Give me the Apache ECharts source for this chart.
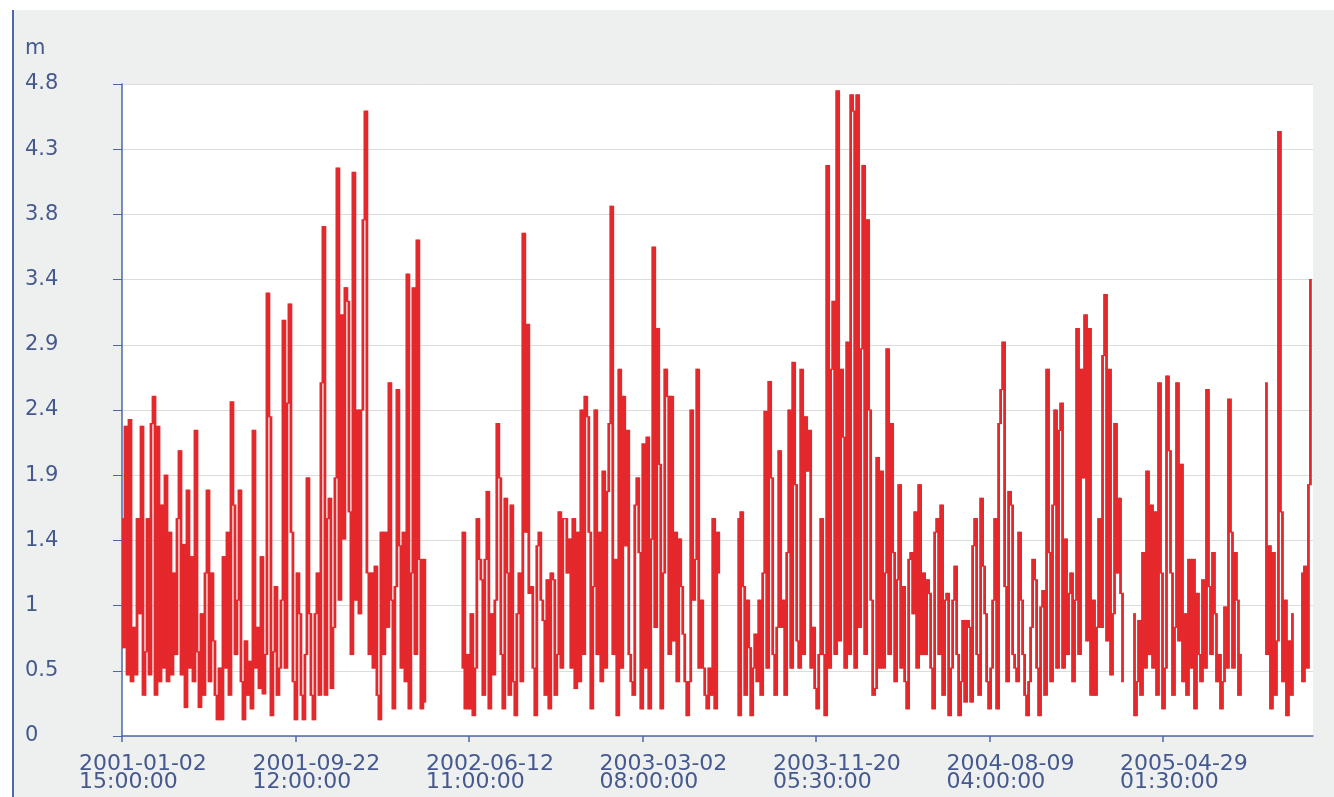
<!DOCTYPE html>
<html>
<head>
<meta charset="utf-8">
<script src="https://cdn.jsdelivr.net/npm/echarts@6/dist/echarts.min.js"></script>
<style>
html, body { margin: 0; padding: 0; background: #ffffff; }
#frame { position: absolute; left: 12px; top: 10px; right: 0; bottom: 0; background: #eef0ef; border-left: 2px solid #4c68a8; }
#chart { position: absolute; left: 0; top: 0; width: 1334px; height: 797px; }
</style>
</head>
<body>
<div id="frame"></div>
<div id="chart"></div>
<script>
// ---- axis data ----
const xTickLabels = [
  '2001-01-02 15:00:00', '2001-09-22 12:00:00', '2002-06-12 11:00:00',
  '2003-03-02 08:00:00', '2003-11-20 05:30:00', '2004-08-09 04:00:00',
  '2005-04-29 01:30:00'
];
const xAxisEnd = '2005-12-12 08:00:00';
const yAxisName = 'm';
const yMin = 0, yMax = 4.8, yStep = 0.48;

// ---- series sampling (wave height, m) ----
const seriesStart = '2001-01-02 15:00:00';
const seriesStepHours = 72.7;

const heights2001a = [
  1.6, 0.65, 2.28, 0.45, 2.33, 0.4, 0.8, 0.45, 1.6, 0.9,
  2.28, 0.3, 0.62, 1.6, 0.45, 2.3, 2.5, 0.3, 2.28, 0.4,
  1.7, 0.5, 1.92, 0.4, 1.5, 0.45, 1.2, 0.6, 1.6, 2.1,
  0.45, 1.41, 0.21, 1.81, 0.5, 1.32, 0.4, 2.25, 0.62, 0.21,
  0.9, 0.3, 1.2, 1.81, 0.4, 1.2, 0.7, 0.3, 0.12, 0.5,
  0.12, 1.32, 0.5, 1.5, 0.3, 2.46, 1.7, 0.6, 1.0, 1.81,
  0.4, 0.12, 0.7, 0.3, 0.55, 0.2, 2.25, 0.5, 0.8, 0.35,
  1.32, 0.31, 0.6, 3.26
];
const heights2001b = [
  2.35, 0.15, 0.62, 1.1, 0.3, 0.5, 1.0, 3.06, 0.5, 2.45,
  3.18, 1.5, 0.4, 0.12, 1.2, 0.9, 0.3, 0.12, 0.6, 1.9,
  0.9, 0.3, 0.12, 0.9, 1.2, 0.3, 2.6, 3.75, 0.3, 1.6,
  1.75, 0.35, 0.8, 1.9, 4.18, 1.0, 3.1, 1.45, 3.3, 3.2,
  1.65, 0.6, 4.15, 1.0, 2.4, 0.9, 2.4, 3.8, 4.6, 1.2,
  0.6, 1.2, 0.5, 1.25, 0.3, 0.12, 1.5, 0.6, 1.5, 0.8,
  2.6, 1.0, 0.2, 1.1, 2.55, 1.4, 0.5, 1.5, 0.4, 3.4,
  0.2, 1.2, 3.3, 0.6, 3.65, 1.3
];
const heights2002 = [
  0.2, 1.3, 0.25,
  null, null, null, null, null, null, null, null, null, null, null, null, null, null, null, null, null,
  0.5, 1.5, 0.2, 0.6, 0.2, 0.9, 0.15, 0.5, 1.6, 1.3,
  1.15, 0.3, 1.3, 1.8, 0.2, 0.9, 0.45, 1.0, 2.3, 1.9,
  0.6, 0.2, 1.75, 1.2, 0.3, 1.7, 0.4, 0.15, 0.9, 1.2,
  0.4, 3.7, 1.5, 3.03, 1.05, 1.1, 0.5, 0.15, 1.4, 1.5,
  1.0, 0.85, 0.3, 1.15, 0.2, 1.2, 1.15, 0.3, 0.6, 1.65,
  0.5, 1.6, 1.6, 1.2
];
const heights2003a = [
  1.45, 0.5, 1.6, 0.35, 1.5, 0.4, 2.4, 0.6, 2.5, 2.35,
  1.5, 0.2, 1.1, 2.4, 0.6, 1.5, 0.4, 1.95, 0.5, 1.8,
  2.3, 3.9, 0.6, 1.3, 0.15, 2.7, 0.5, 2.5, 1.4, 2.25,
  0.6, 0.4, 0.3, 1.7, 1.9, 1.35, 0.2, 2.15, 0.5, 2.2,
  0.2, 1.45, 3.6, 0.8, 3.0, 2.0, 0.2, 1.2, 2.7, 2.5,
  0.6, 2.5, 0.7, 1.5, 0.4, 1.45, 1.1, 0.75, 0.4, 0.15,
  0.4, 2.4, 1.0, 1.3, 2.7, 0.5, 1.0, 0.5, 0.3, 0.2,
  0.5, 0.3, 1.6, 0.2, 1.5, 1.2
];
const heights2003b = [
  null, null, null, null, null, null, null, null,
  1.6, 0.15, 1.65, 1.1, 0.3, 1.0, 0.65, 0.15, 0.5, 0.75,
  0.4, 1.0, 0.3, 1.2, 2.39, 0.5, 2.61, 1.9, 0.6, 0.3,
  0.8, 2.1, 0.8, 1.0, 0.3, 1.35, 2.4, 0.5, 2.75, 1.85,
  0.7, 0.5, 2.7, 0.6, 2.35, 1.95, 2.25, 0.5, 0.8, 0.35,
  0.2, 0.6, 1.6, 0.6, 0.15, 4.2, 0.5, 2.7, 3.2, 0.6,
  4.75, 0.7, 2.7, 2.2, 0.5, 2.9, 0.6, 4.72, 4.6, 0.5,
  4.72, 0.8, 2.85, 4.2, 0.6, 3.8
];
const heights2004a = [
  2.4, 1.0, 0.3, 0.35, 2.05, 0.5, 1.95, 0.5, 1.2, 2.85,
  0.6, 2.3, 1.35, 0.4, 1.15, 1.85, 0.5, 1.1, 0.4, 0.2,
  1.3, 1.35, 0.9, 1.65, 0.5, 1.85, 0.6, 1.2, 0.6, 1.15,
  1.05, 0.5, 0.2, 1.5, 1.6, 0.6, 1.7, 0.3, 1.0, 1.05,
  0.15, 0.5, 1.0, 1.25, 0.6, 0.15, 0.4, 0.85, 0.25, 0.85,
  0.8, 0.25, 1.4, 1.6, 0.6, 0.3, 1.75, 1.25, 0.9, 0.4,
  0.2, 0.5, 1.0, 1.6, 0.2, 2.3, 2.55, 2.9, 1.1, 0.4,
  1.8, 1.7, 0.6, 0.5, 0.4
];
const heights2004b = [
  1.5, 1.0, 0.6, 0.3, 0.15, 0.4, 0.8, 1.3, 1.15, 0.5,
  0.15, 0.95, 1.07, 0.3, 2.7, 1.35, 0.4, 1.7, 2.4, 0.5,
  2.25, 2.45, 0.5, 1.45, 0.6, 1.05, 1.2, 0.4, 1.0, 3.0,
  0.6, 2.7, 1.9, 3.1, 0.7, 3.0, 0.3, 1.0, 0.3, 0.8,
  1.6, 0.8, 2.8, 3.25, 0.7, 2.7, 0.45, 0.9, 2.3, 1.2,
  1.75, 1.05, 0.4, null, null, null, null, 0.9, 0.15, 0.4,
  0.85, 0.3, 1.35, 0.5, 1.95, 0.6, 1.7, 0.5, 1.65, 0.3,
  2.6, 1.2, 0.2, 0.5, 2.65
];
const heights2005 = [
  2.1, 1.2, 0.3, 0.8, 2.6, 0.7, 2.0, 0.4, 0.9, 0.3,
  1.3, 0.5, 1.3, 0.2, 1.05, 0.6, 0.4, 1.15, 0.5, 2.55,
  1.1, 0.6, 1.35, 0.9, 0.4, 0.6, 0.2, 0.4, 0.95, 0.5,
  2.48, 1.5, 0.5, 1.35, 1.0, 0.3, 0.6, null, null, null,
  null, null, null, null, null, null, null, null,
  2.6, 0.6, 1.4, 0.2, 1.35, 0.3, 0.7, 4.45, 1.65, 0.4,
  1.0, 0.15, 0.7, 0.3, 0.9, null, null, null, 1.2, 0.4,
  1.25, 0.5, 1.85, 3.36
];

// ---- build ----
function toTs(s) {
  const parts = s.split(' ');
  const d = parts[0].split('-').map(Number);
  const t = parts[1].split(':').map(Number);
  return Date.UTC(d[0], d[1] - 1, d[2], t[0], t[1], t[2]);
}
const waveHeight = [].concat(heights2001a, heights2001b, heights2002, heights2003a,
  heights2003b, heights2004a, heights2004b, heights2005);
const startTs = toTs(seriesStart);
const stepMs = seriesStepHours * 3600 * 1000;
const tickTs = xTickLabels.map(toTs);

// Each stroke joins one reading to the next one (a vertical trace between consecutive readings).
const strokeData = [];
for (let i = 0; i < waveHeight.length - 1; i++) {
  const a = waveHeight[i], b = waveHeight[i + 1];
  if (a === null || b === null) continue;
  strokeData.push([startTs + (i + 0.5) * stepMs, Math.min(a, b), Math.max(a, b)]);
}

const textColor = '#45598f';
const axisColor = '#4c68a8';
const lineColor = '#e4282c';
const fontFamily = 'DejaVu Sans';

const chart = echarts.init(document.getElementById('chart'), null, { renderer: 'canvas' });
chart.setOption({
  animation: false,
  backgroundColor: 'transparent',
  title: {
    text: yAxisName,
    left: 25, top: 38, padding: 0,
    textStyle: { color: textColor, fontSize: 21, fontWeight: 'normal', fontFamily: fontFamily }
  },
  grid: {
    left: 122, right: 21, top: 84, bottom: 61,
    show: true, backgroundColor: '#ffffff', borderWidth: 0
  },
  xAxis: {
    type: 'value',
    min: tickTs[0],
    max: toTs(xAxisEnd),
    splitLine: { show: false },
    axisLine: { show: true, lineStyle: { color: axisColor, width: 1.5 } },
    axisTick: { show: true, length: 6, customValues: tickTs, lineStyle: { color: axisColor, width: 1.5 } },
    axisLabel: {
      customValues: tickTs,
      color: textColor,
      fontFamily: fontFamily,
      fontSize: 22,
      lineHeight: 17.5,
      align: 'left',
      padding: [0, 0, 0, -43],
      margin: 20,
      hideOverlap: false,
      formatter: function (val) {
        let best = -1, bestD = Infinity;
        tickTs.forEach((t, i) => { const d = Math.abs(t - val); if (d < bestD) { bestD = d; best = i; } });
        if (best < 0 || bestD > 3600 * 1000) return '';
        return xTickLabels[best].replace(' ', '\n');
      }
    }
  },
  yAxis: {
    type: 'value',
    min: yMin, max: yMax, interval: yStep,
    axisLine: { show: true, lineStyle: { color: axisColor, width: 1.5 } },
    axisTick: { show: true, length: 9, lineStyle: { color: axisColor, width: 1 } },
    splitLine: { show: true, lineStyle: { color: '#dcdcdc', width: 1 } },
    axisLabel: {
      color: textColor,
      fontFamily: fontFamily,
      fontSize: 21,
      align: 'left',
      margin: 97,
      formatter: function (v) { return String(parseFloat(v.toFixed(1))); }
    }
  },
  series: [{
    type: 'custom',
    name: 'wave height',
    data: strokeData,
    dimensions: ['time', 'low', 'high'],
    encode: { x: 0, y: [1, 2] },
    clip: true,
    renderItem: function (params, api) {
      const t = api.value(0);
      const top = api.coord([t, api.value(2)]);
      const bottom = api.coord([t, api.value(1)]);
      const w = api.size([stepMs, 0])[0] + 0.8;
      return {
        type: 'rect',
        shape: { x: top[0] - w / 2, y: top[1] - 0.6, width: w, height: Math.max(bottom[1] - top[1], 0) + 1.2 },
        style: { fill: lineColor, stroke: null, lineWidth: 0 }
      };
    }
  }]
});
</script>
</body>
</html>
